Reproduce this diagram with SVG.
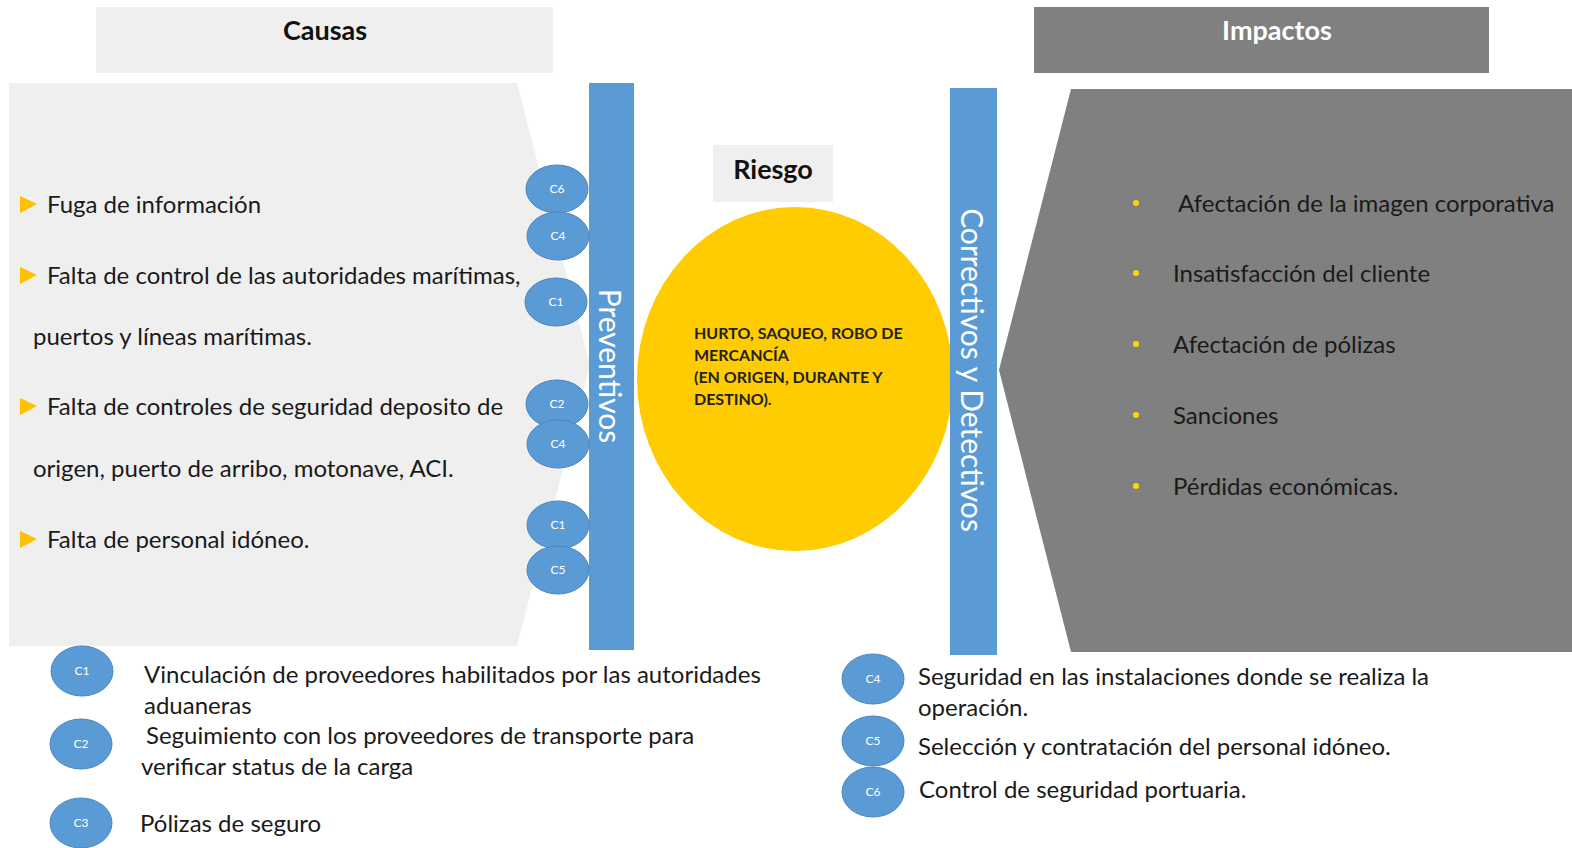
<svg xmlns="http://www.w3.org/2000/svg" width="1572" height="848" viewBox="0 0 1572 848">
<defs>
<style>
.t{font-family:Lato,"Liberation Sans",sans-serif;font-size:24px;fill:#1a1a1a}
.hd{font-family:Lato,"Liberation Sans",sans-serif;font-size:27px;font-weight:bold;text-anchor:middle}
.c{fill:#5b9bd5;stroke:#4a86c0;stroke-width:1}
.cl{font-family:Lato,"Liberation Sans",sans-serif;font-size:12px;fill:#ffffff;text-anchor:middle}
.bar{fill:#5b9bd5}
.bt{font-family:Lato,"Liberation Sans",sans-serif;font-size:30px;fill:#ffffff;text-anchor:middle}
.tri{fill:#ffc000}
.dot{fill:#ffd700}
.rk{font-family:Lato,"Liberation Sans",sans-serif;font-size:16px;font-weight:bold;fill:#222}
</style>
</defs>
<rect width="1572" height="848" fill="#ffffff"/>

<g id="causas-header">
<rect x="96" y="7" width="457" height="66" fill="#efefef"/>
<text class="hd" x="325" y="40" fill="#111">Causas</text>
</g>

<g id="impactos-header">
<rect x="1034" y="7" width="455" height="66" fill="#808080"/>
<text class="hd" x="1277" y="40" fill="#ffffff">Impactos</text>
</g>

<g id="causas">
<polygon points="9,83 517,83 590,365 517,646 9,646" fill="#efefef"/>
<polygon class="tri" points="20,196 37,204 20,213"/>
<text class="t" x="47" y="213">Fuga de información</text>
<polygon class="tri" points="20,267 37,275 20,284"/>
<text class="t" x="47" y="284">Falta de control de las autoridades marítimas,</text>
<text class="t" x="33" y="345">puertos y líneas marítimas.</text>
<polygon class="tri" points="20,398 37,406 20,415"/>
<text class="t" x="47" y="415">Falta de controles de seguridad deposito de</text>
<text class="t" x="33" y="477">origen, puerto de arribo, motonave, ACI.</text>
<polygon class="tri" points="20,531 37,539 20,548"/>
<text class="t" x="47" y="548">Falta de personal idóneo.</text>
</g>

<g id="preventivos">
<rect class="bar" x="589" y="83" width="45" height="567"/>
<text class="bt" transform="translate(599,366) rotate(90)">Preventivos</text>
</g>

<g id="controles-preventivos">
<ellipse class="c" cx="557" cy="189" rx="31" ry="24"/><text class="cl" x="557" y="193">C6</text>
<ellipse class="c" cx="558" cy="236" rx="31" ry="24"/><text class="cl" x="558" y="240">C4</text>
<ellipse class="c" cx="556" cy="302" rx="31" ry="24"/><text class="cl" x="556" y="306">C1</text>
<ellipse class="c" cx="557" cy="404" rx="31" ry="24"/><text class="cl" x="557" y="408">C2</text>
<ellipse class="c" cx="558" cy="444" rx="31" ry="24"/><text class="cl" x="558" y="448">C4</text>
<ellipse class="c" cx="558" cy="525" rx="31" ry="24"/><text class="cl" x="558" y="529">C1</text>
<ellipse class="c" cx="558" cy="570" rx="31" ry="24"/><text class="cl" x="558" y="574">C5</text>
</g>

<g id="riesgo">
<rect x="713" y="145" width="120" height="57" fill="#efefef"/>
<text class="hd" x="773" y="179" fill="#111">Riesgo</text>
<ellipse cx="795" cy="379" rx="158" ry="172" fill="#ffcc00"/>
<text class="rk" x="694" y="339">HURTO, SAQUEO, ROBO DE</text>
<text class="rk" x="694" y="361">MERCANCÍA</text>
<text class="rk" x="694" y="383">(EN ORIGEN, DURANTE Y</text>
<text class="rk" x="694" y="405">DESTINO).</text>
</g>

<g id="correctivos">
<rect class="bar" x="950" y="88" width="47" height="567"/>
<text class="bt" transform="translate(961,370) rotate(90)">Correctivos y Detectivos</text>
</g>

<g id="impactos">
<polygon points="1071,89 1572,89 1572,652 1071,652 999,370" fill="#808080"/>
<circle class="dot" cx="1136" cy="203" r="3"/>
<text class="t" x="1178" y="212">Afectación de la imagen corporativa</text>
<circle class="dot" cx="1136" cy="273" r="3"/>
<text class="t" x="1173" y="282">Insatisfacción del cliente</text>
<circle class="dot" cx="1136" cy="344" r="3"/>
<text class="t" x="1173" y="353">Afectación de pólizas</text>
<circle class="dot" cx="1136" cy="415" r="3"/>
<text class="t" x="1173" y="424">Sanciones</text>
<circle class="dot" cx="1136" cy="486" r="3"/>
<text class="t" x="1173" y="495">Pérdidas económicas.</text>
</g>

<g id="leyenda-preventivos">
<ellipse class="c" cx="82" cy="671" rx="31" ry="25"/><text class="cl" x="82" y="675">C1</text>
<text class="t" x="144" y="683">Vinculación de proveedores habilitados por las autoridades</text>
<text class="t" x="144" y="714">aduaneras</text>
<ellipse class="c" cx="81" cy="744" rx="31" ry="25"/><text class="cl" x="81" y="748">C2</text>
<text class="t" x="146" y="744">Seguimiento con los proveedores de transporte para</text>
<text class="t" x="141" y="775">verificar status de la carga</text>
<ellipse class="c" cx="81" cy="823" rx="31" ry="25"/><text class="cl" x="81" y="827">C3</text>
<text class="t" x="140" y="832">Pólizas de seguro</text>
</g>

<g id="leyenda-correctivos">
<ellipse class="c" cx="873" cy="679" rx="31" ry="25"/><text class="cl" x="873" y="683">C4</text>
<text class="t" x="918" y="685">Seguridad en las instalaciones donde se realiza la</text>
<text class="t" x="918" y="716">operación.</text>
<ellipse class="c" cx="873" cy="741" rx="31" ry="25"/><text class="cl" x="873" y="745">C5</text>
<text class="t" x="918" y="755">Selección y contratación del personal idóneo.</text>
<ellipse class="c" cx="873" cy="792" rx="31" ry="25"/><text class="cl" x="873" y="796">C6</text>
<text class="t" x="919" y="798">Control de seguridad portuaria.</text>
</g>
</svg>
